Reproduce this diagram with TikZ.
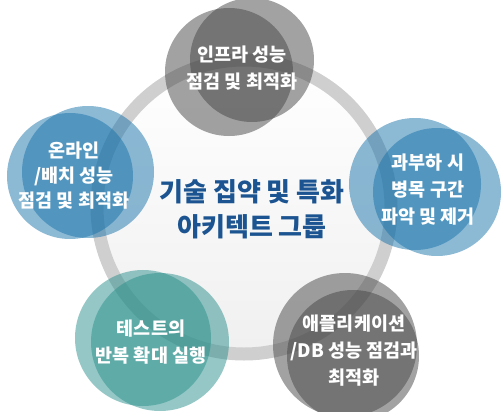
\documentclass[tikz,border=0pt]{standalone}
\usepackage{fontspec}
\setmainfont{Noto Sans CJK KR}
\usetikzlibrary{shadings}
\definecolor{ringc}{HTML}{CFCFCF}
\definecolor{grayc}{RGB}{70,70,70}
\definecolor{bluec}{RGB}{25,115,170}
\definecolor{tealc}{RGB}{41,143,139}
\definecolor{titlec}{HTML}{1B5490}
\tikzset{
  lbl/.style={text=white, font=\fontsize{18.5}{27}\selectfont\bfseries, align=center},
  ttl/.style={text=titlec, font=\fontsize{26}{35}\selectfont\bfseries, align=center},
  gbub/.style={fill=grayc, fill opacity=0.5},
  bbub/.style={fill=bluec, fill opacity=0.5},
  tbub/.style={fill=tealc, fill opacity=0.5},
}
\begin{document}
\begin{tikzpicture}[x=1pt,y=-1pt]
\useasboundingbox (0,0) rectangle (503,412);
% ring
\shade[top color=white, bottom color=gray!12] (244,207) circle (147);
\draw[line width=13pt, ringc] (244,207) circle (147);
% top
\fill[gbub] (229,72) circle (64);
\fill[gbub] (252,60) circle (62);
\node[lbl] (top) at (242,68) {인프라 성능\\점검 및 최적화};
% left
\fill[bbub] (70,176) circle (63);
\fill[bbub] (88,172) circle (66);
\node[lbl, font=\fontsize{18.5}{25}\selectfont\bfseries] (left) at (74,176) {온라인\\/배치 성능\\점검 및 최적화};
% right
\fill[bbub] (415,184) circle (66);
\fill[bbub] (437,192) circle (64);
\node[lbl] (right) at (428,190) {과부하 시\\병목 구간\\파악 및 제거};
% bottom left
\fill[tbub] (143,338) circle (68);
\fill[tbub] (160,342) circle (69);
\node[lbl] (bl) at (151,342) {테스트의\\반복 확대 실행};
% bottom right
\fill[gbub] (345,345) circle (72);
\fill[gbub] (353,356) circle (66);
\node[lbl] (br) at (354,351) {애플리케이션\\/DB 성능 점검과\\최적화};
% center
\node[ttl] (center) at (252,209) {기술 집약 및 특화\\아키텍트 그룹};
\end{tikzpicture}
\end{document}
